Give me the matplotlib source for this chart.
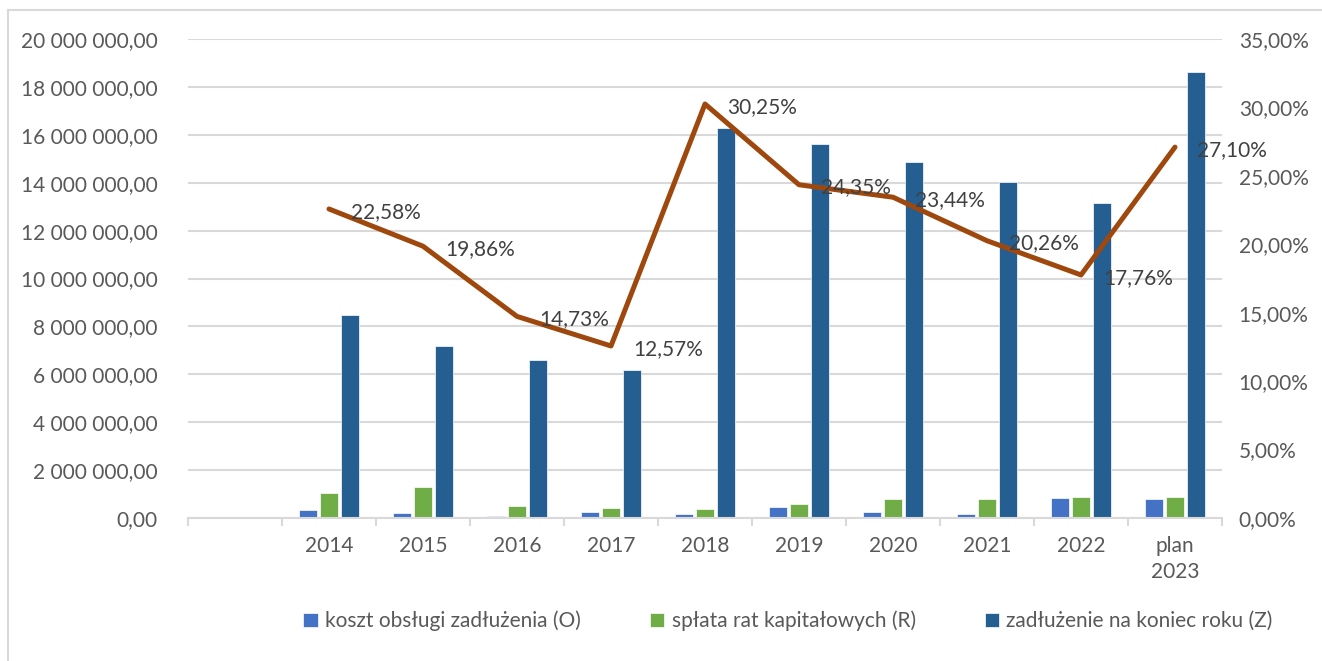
import matplotlib.pyplot as plt
import matplotlib.ticker as mticker
import numpy as np

plt.rcParams['font.family'] = ['Lato', 'DejaVu Sans']

# first category is empty in the source chart
categories = ['', '2014', '2015', '2016', '2017', '2018', '2019', '2020', '2021', '2022', 'plan\n2023']
koszt_obslugi = [0, 340000, 200000, 90000, 260000, 180000, 450000, 240000, 170000, 845000, 790000]
splata_rat = [0, 1060000, 1290000, 520000, 410000, 394000, 590000, 790000, 790000, 860000, 875000]
zadluzenie = [0, 8480000, 7180000, 6600000, 6180000, 16280000, 15620000, 14860000, 14030000, 13150000, 18620000]
wskaznik = [np.nan, 22.58, 19.86, 14.73, 12.57, 30.25, 24.35, 23.44, 20.26, 17.76, 27.10]

c_koszt = '#4472C4'
c_splata = '#70AD47'
c_zadl = '#255E91'
c_line = '#9E480E'
c_text = '#595959'
c_grid = '#D9D9D9'
fs = 15


def pl_number(v, pos=None):
    s = f'{v:,.2f}'
    return s.replace(',', ' ').replace('.', ',')


def pl_percent(v, pos=None):
    return f'{v:.2f}%'.replace('.', ',')


fig = plt.figure(figsize=(13.22, 6.61), dpi=100)
ax = fig.add_axes([188 / 1322, 1 - 518 / 661, (1222 - 188) / 1322, (518 - 39) / 661])

x = np.arange(len(categories))
w = 0.181
off = 0.2234
ax.bar(x - off, koszt_obslugi, w, color=c_koszt, edgecolor='white', linewidth=0.5,
       label='koszt obsługi zadłużenia (O)', zorder=2)
ax.bar(x, splata_rat, w, color=c_splata, edgecolor='white', linewidth=0.5,
       label='spłata rat kapitałowych (R)', zorder=2)
ax.bar(x + off, zadluzenie, w, color=c_zadl, edgecolor='white', linewidth=0.5,
       label='zadłużenie na koniec roku (Z)', zorder=2)

ax.set_xlim(-0.5, len(categories) - 0.5)
ax.set_ylim(0, 20000000)
ax.yaxis.set_major_locator(mticker.MultipleLocator(2000000))
ax.yaxis.set_major_formatter(mticker.FuncFormatter(pl_number))
ax.grid(axis='y', color=c_grid, linewidth=1.5, zorder=0)
ax.set_axisbelow(True)

ax.set_xticks(x)
ax.set_xticklabels(categories, linespacing=1.4)
ax.set_xticks(np.arange(len(categories) + 1) - 0.5, minor=True)
ax.tick_params(axis='x', which='major', length=0, pad=13, labelsize=fs, colors=c_text)
ax.tick_params(axis='x', which='minor', length=6, width=1.5, color=c_grid)
ax.tick_params(axis='y', length=0, pad=22, labelsize=fs, colors=c_text)

for side in ['top', 'right', 'left']:
    ax.spines[side].set_visible(False)
ax.spines['bottom'].set_color(c_grid)
ax.spines['bottom'].set_linewidth(1.5)

ax2 = ax.twinx()
ax2.plot(x, wskaznik, color=c_line, linewidth=3.6, solid_capstyle='round', zorder=3)
ax2.set_ylim(0, 35)
ax2.yaxis.set_major_locator(mticker.MultipleLocator(5))
ax2.yaxis.set_major_formatter(mticker.FuncFormatter(pl_percent))
ax2.tick_params(axis='y', length=0, pad=12, labelsize=fs, colors=c_text)
for side in ['top', 'right', 'left', 'bottom']:
    ax2.spines[side].set_visible(False)

for xi, val in zip(x, wskaznik):
    if np.isnan(val):
        continue
    ax2.annotate(pl_percent(val), (xi, val), xytext=(16, -2), textcoords='offset points',
                 ha='left', va='center', fontsize=fs, color='#404040', zorder=4)

handles, labels = ax.get_legend_handles_labels()
fig.legend(handles, labels, loc='center', bbox_to_anchor=(788 / 1322, 1 - 621 / 661), ncol=3,
           frameon=False, fontsize=fs, labelcolor=c_text, handlelength=0.7, handleheight=0.7,
           handletextpad=0.35, columnspacing=3.3)

# chart area border (only left and top edges are visible in the source)
fig.add_artist(plt.Line2D([8 / 1322, 8 / 1322], [0, 1 - 10 / 661], color=c_grid, linewidth=1.5,
                          transform=fig.transFigure))
fig.add_artist(plt.Line2D([8 / 1322, 1], [1 - 10 / 661, 1 - 10 / 661], color=c_grid, linewidth=1.5,
                          transform=fig.transFigure))

fig.savefig('out.png', dpi=100)
